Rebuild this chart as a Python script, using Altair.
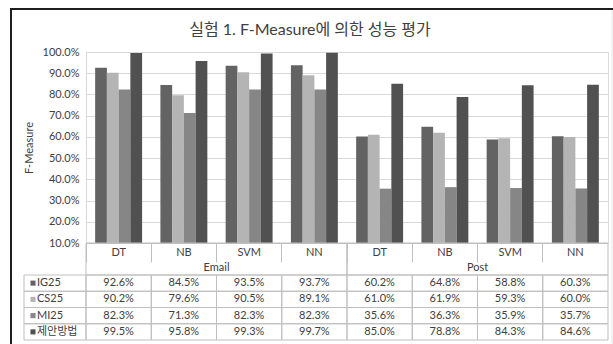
import altair as alt
import pandas as pd

# ---- data -------------------------------------------------------------
title_text = "실험 1. F-Measure에 의한 성능 평가"
groups = ["Email", "Post"]
categories = ["DT", "NB", "SVM", "NN"]
series = ["IG25", "CS25", "MI25", "제안방법"]
ig25 = [92.6, 84.5, 93.5, 93.7, 60.2, 64.8, 58.8, 60.3]
cs25 = [90.2, 79.6, 90.5, 89.1, 61.0, 61.9, 59.3, 60.0]
mi25 = [82.3, 71.3, 82.3, 82.3, 35.6, 36.3, 35.9, 35.7]
proposed = [99.5, 95.8, 99.3, 99.7, 85.0, 78.8, 84.3, 84.6]
y_ticks = [0.1, 0.2, 0.3, 0.4, 0.5, 0.6, 0.7, 0.8, 0.9, 1.0]

# ---- style ------------------------------------------------------------
colors = ["#636363", "#b4b4b4", "#868686", "#515151"]
FONT = "Lato, 'Noto Sans CJK KR', sans-serif"
TEXT = "#404040"
LINE = "#bfbfbf"
GRID = "#d9d9d9"
W, H = 522, 191          # bar plot area
HDR = [H + 2, H + 32]    # category / group header rows
BLOCK = [H, H + 32]      # outline of each group's header block
ROWS = [H + 32, H + 97]  # data table rows

keys = [f"{g}|{c}" for g in groups for c in categories]

records = []
for name, vals in zip(series, [ig25, cs25, mi25, proposed]):
    for k, v in zip(keys, vals):
        records.append({"key": k, "series": name, "value": v / 100})
df = pd.DataFrame(records)

cols = pd.DataFrame({"key": keys,
                     "category": [c for g in groups for c in categories],
                     "row": "cat"})
grp_df = pd.DataFrame({"label": groups, "row": "grp", "blk": "hdr"})
legend_df = pd.DataFrame({"series": series, "col": "legend"})
frame_df = pd.DataFrame({"f": [0]})


def x_col(axis=None):
    return alt.X("key:N", scale=alt.Scale(domain=keys, paddingInner=0, paddingOuter=0),
                 axis=axis)


x_grp = alt.X("label:N", scale=alt.Scale(domain=groups, paddingInner=0, paddingOuter=0), axis=None)
y_hdr = alt.Y("row:N", scale=alt.Scale(domain=["cat", "grp"], range=HDR,
                                       paddingInner=0, paddingOuter=0), axis=None)
y_blk = alt.Y("blk:N", scale=alt.Scale(domain=["hdr"], range=BLOCK,
                                       paddingInner=0, paddingOuter=0), axis=None)
y_rows = alt.Y("series:N", scale=alt.Scale(domain=series, range=ROWS,
                                           paddingInner=0, paddingOuter=0), axis=None)
x_leg = alt.X("col:N", scale=alt.Scale(domain=["legend"], range=[-62, 0],
                                       paddingInner=0, paddingOuter=0), axis=None)
color = alt.Color("series:N", scale=alt.Scale(domain=series, range=colors), legend=None)

# outer chart border (left and top edges dark, right edge faint)
frame_left = alt.Chart(frame_df).mark_rule(color="#1e1e1e", strokeWidth=2).encode(
    x=alt.value(-75), y=alt.value(-43), y2=alt.value(H + 101))
frame_top = alt.Chart(frame_df).mark_rule(color="#1e1e1e", strokeWidth=2).encode(
    x=alt.value(-76), x2=alt.value(W + 5), y=alt.value(-43))
frame_right = alt.Chart(frame_df).mark_rule(color="#e4e4e4", strokeWidth=1).encode(
    x=alt.value(W + 4), y=alt.value(-42), y2=alt.value(H + 101))

bars = alt.Chart(df).mark_bar().encode(
    x=x_col(axis=alt.Axis(labels=False, title=None, bandPosition=0, tickSize=19,
                          tickColor=LINE, domainColor=LINE, grid=False)),
    xOffset=alt.XOffset("series:N", scale=alt.Scale(domain=series, paddingInner=0, paddingOuter=0.78)),
    y=alt.Y("value:Q",
            scale=alt.Scale(domain=[0.1, 1.0], zero=False, nice=False),
            axis=alt.Axis(format=".1%", values=y_ticks, grid=True, gridColor=GRID,
                          domainColor=GRID, ticks=False, labelPadding=7,
                          labelFontSize=11, labelColor=TEXT, labelFont=FONT,
                          title="F-Measure", titleFont=FONT, titleFontSize=11,
                          titleFontWeight="normal", titleColor=TEXT, titlePadding=8)),
    y2=alt.datum(0.1),
    color=color,
)

# table outlines
cells = alt.Chart(df).mark_rect(fill="transparent", stroke=LINE, strokeWidth=1).encode(
    x=x_col(), y=y_rows)
leg_cells = alt.Chart(legend_df).mark_rect(fill="transparent", stroke=LINE, strokeWidth=1).encode(
    x=x_leg, y=y_rows)
grp_cells = alt.Chart(grp_df).mark_rect(fill="transparent", stroke=LINE, strokeWidth=1).encode(
    x=x_grp, y=y_blk)

# table texts
cat_text = alt.Chart(cols).mark_text(font=FONT, fontSize=11, color=TEXT).encode(
    x=x_col(), y=y_hdr, text="category:N")
grp_text = alt.Chart(grp_df).mark_text(font=FONT, fontSize=11, color=TEXT).encode(
    x=x_grp, y=y_hdr, text="label:N")
val_text = alt.Chart(df).mark_text(font=FONT, fontSize=11, color=TEXT).encode(
    x=x_col(), y=y_rows, text=alt.Text("value:Q", format=".1%"))

leg_marks = alt.Chart(legend_df).mark_square(size=26, opacity=1, xOffset=-22).encode(
    x=x_leg, y=y_rows, color=color)
leg_names = alt.Chart(legend_df).mark_text(font=FONT, fontSize=11, align="left", dx=-18,
                                           color=TEXT).encode(
    x=x_leg, y=y_rows, text="series:N")

chart = alt.layer(
    frame_left, frame_top, frame_right, bars, cells, leg_cells, grp_cells,
    cat_text, grp_text, val_text, leg_marks, leg_names,
).resolve_scale(
    x="independent", y="independent"
).properties(
    width=W, height=H,
    title=alt.TitleParams(title_text, font=FONT, fontSize=16, fontWeight="normal",
                          color=TEXT, anchor="middle", frame="group", dx=-37, offset=-30),
    autosize=alt.AutoSizeParams(type="none"),
    padding={"left": 86, "top": 52, "right": 5, "bottom": 101},
).configure_view(stroke=None).configure(background="white")

chart.save("out.html", embed_options={"renderer": "svg", "actions": False})
